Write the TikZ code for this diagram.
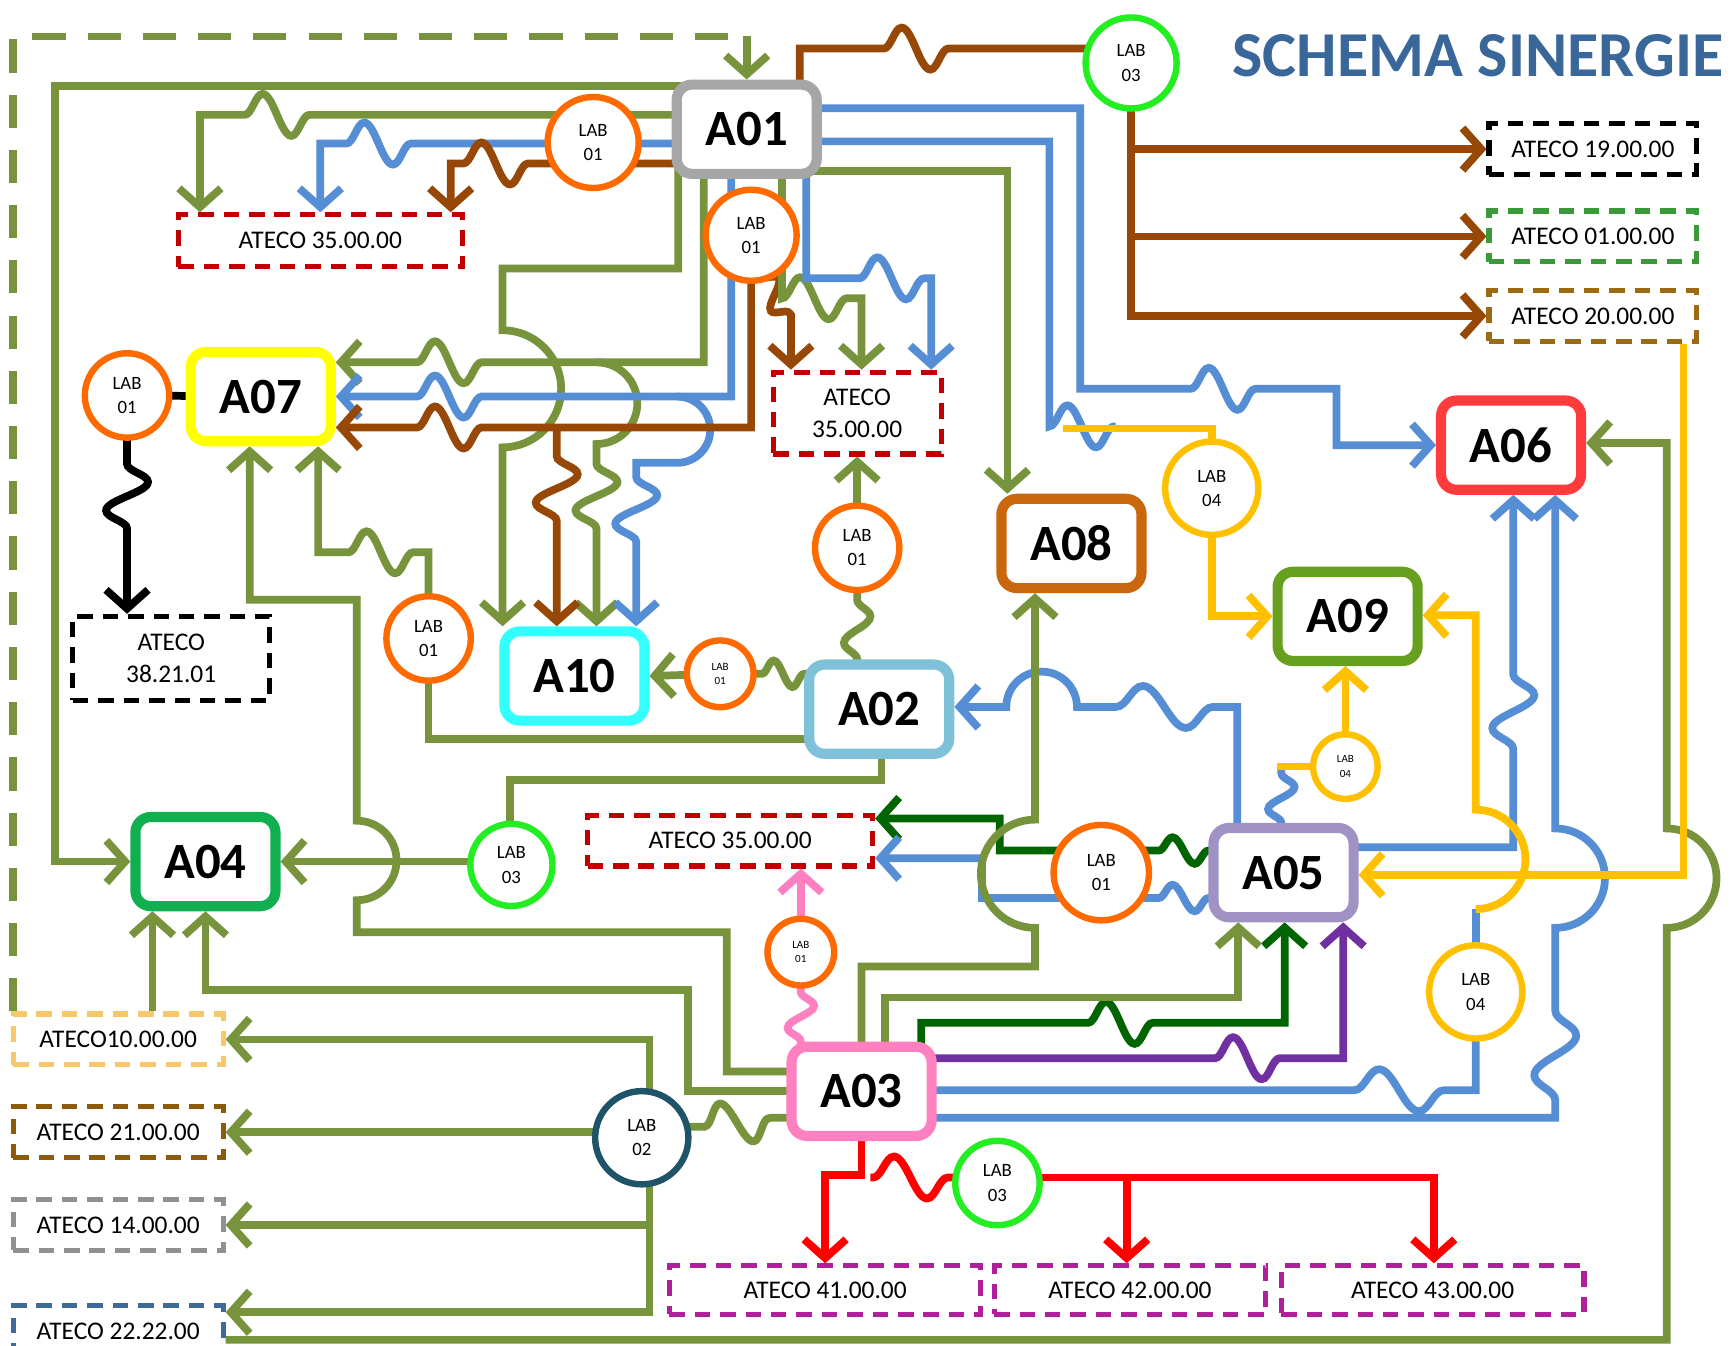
\documentclass[tikz,border=0pt]{standalone}
\usepackage{fontspec}
\setmainfont{Carlito}
\usetikzlibrary{arrows.meta,decorations.pathmorphing}
\pgfdeclarelayer{bg}
\pgfsetlayers{bg,main}
\definecolor{cG}{HTML}{77933C}
\definecolor{cB}{HTML}{558ED5}
\definecolor{cBr}{HTML}{974806}
\definecolor{cDG}{HTML}{006400}
\definecolor{cP}{HTML}{7030A0}
\definecolor{cY}{HTML}{FFC000}
\definecolor{cR}{HTML}{FF0000}
\definecolor{cPk}{HTML}{FF80C0}
\definecolor{cOr}{HTML}{FF6A00}
\definecolor{cLG}{HTML}{22EE22}
\definecolor{cTeal}{HTML}{1F5468}
\definecolor{cDR}{HTML}{C00000}
\definecolor{cTitle}{HTML}{3A679A}
\definecolor{cA01}{HTML}{A6A6A6}
\definecolor{cA07}{HTML}{FFFF00}
\definecolor{cA10}{HTML}{33FFFF}
\definecolor{cA02}{HTML}{7FC1D8}
\definecolor{cA08}{HTML}{C8670E}
\definecolor{cA06}{HTML}{FF3B3B}
\definecolor{cA09}{HTML}{66A01E}
\definecolor{cA05}{HTML}{A092C3}
\definecolor{cA04}{HTML}{10B050}
\definecolor{cA03}{HTML}{FF80C0}
\definecolor{cT6}{HTML}{3A9A3A}
\definecolor{cT7}{HTML}{9C6A10}
\definecolor{cT8}{HTML}{F5C86A}
\definecolor{cT9}{HTML}{8C5A08}
\definecolor{cT10}{HTML}{909090}
\definecolor{cT11}{HTML}{3E6A9A}
\definecolor{cMag}{HTML}{B0209C}
\begin{document}
\begin{tikzpicture}[x=0.5pt,y=-0.5pt,
  abox/.style={draw=#1,line width=4.6pt,rounded corners=7pt,fill=white,minimum width=63.4pt,minimum height=40.4pt,inner sep=0pt,font=\bfseries\fontsize{23}{26}\selectfont},
  labc/.style={circle,draw=#1,line width=2.9pt,fill=white,inner sep=0pt,align=center,font=\fontsize{8.5}{11}\selectfont},
  labs/.style={circle,draw=#1,line width=2.9pt,fill=white,inner sep=0pt,align=center,font=\fontsize{5}{6.5}\selectfont},
  atc/.style={draw=#1,line width=2.3pt,dash pattern=on 7pt off 4.5pt,fill=white,inner sep=0pt,align=center,font=\fontsize{11.5}{14.5}\selectfont},
  conn/.style={line width=3.5pt},
  arr/.style={-{Straight Barb[length=8.5pt,width=19pt]}},
  wv/.style={decoration={snake,amplitude=9.5pt,segment length=#1}}, wv/.default=26pt,
  wvs/.style={decoration={snake,amplitude=6pt,segment length=#1}}, wvs/.default=18pt]
\useasboundingbox (0,0) rectangle (1568,1218);

% ---------- boxes ----------
\node[abox=cA01] (A01) at (676,117) {A01};
\node[abox=cA07] (A07) at (236,359) {A07};
\node[abox=cA10] (A10) at (520,612) {A10};
\node[abox=cA02] (A02) at (796,642) {A02};
\node[abox=cA08] (A08) at (970,492) {A08};
\node[abox=cA06] (A06) at (1368,403) {A06};
\node[abox=cA09] (A09) at (1220,558) {A09};
\node[abox=cA05] (A05) at (1162,790) {A05};
\node[abox=cA04] (A04) at (186,780) {A04};
\node[abox=cA03] (A03) at (780,988) {A03};

% ---------- LAB circles ----------
\node[labc=cOr,minimum size=41.2pt] (L1) at (537,129) {LAB\\01};
\node[labc=cOr,minimum size=41.2pt] (L2) at (680,213) {LAB\\01};
\node[labc=cLG,minimum size=41.2pt] (L3) at (1024,57) {LAB\\03};
\node[labc=cOr,minimum size=38.2pt] (L4) at (115,358) {LAB\\01};
\node[labc=cOr,minimum size=38.2pt] (L5) at (388,578) {LAB\\01};
\node[labs=cOr,minimum size=30.2pt] (L6) at (652,610) {LAB\\01};
\node[labc=cOr,minimum size=38.2pt] (L7) at (776,496) {LAB\\01};
\node[labc=cY,minimum size=42.2pt] (L8) at (1097,442) {LAB\\04};
\node[labs=cY,minimum size=29.2pt] (L9) at (1218,694) {LAB\\04};
\node[labc=cOr,minimum size=43.2pt] (L10) at (997,790) {LAB\\01};
\node[labc=cLG,minimum size=37.2pt] (L11) at (463,783) {LAB\\03};
\node[labs=cOr,minimum size=30.2pt] (L12) at (725,862) {LAB\\01};
\node[labc=cY,minimum size=42.2pt] (L13) at (1336,898) {LAB\\04};
\node[labc=cTeal,minimum size=42.2pt] (L14) at (581,1030) {LAB\\02};
\node[labc=cLG,minimum size=38.2pt] (L15) at (903,1071) {LAB\\03};

% ---------- ATECO boxes ----------
\node[atc=cDR,minimum width=128.5pt,minimum height=23.5pt] (T1) at (290,218) {ATECO 35.00.00};
\node[atc=black,minimum width=89pt,minimum height=38pt] (T2) at (155,596) {ATECO\\38.21.01};
\node[atc=cDR,minimum width=76pt,minimum height=37pt] (T3) at (776,374) {ATECO\\35.00.00};
\node[atc=cDR,minimum width=129pt,minimum height=23pt] (T4) at (661,761) {ATECO 35.00.00};
\node[atc=black,minimum width=94pt,minimum height=23pt] (T5) at (1442,135) {ATECO 19.00.00};
\node[atc=cT6,minimum width=94pt,minimum height=23pt] (T6) at (1442,214) {ATECO 01.00.00};
\node[atc=cT7,minimum width=94pt,minimum height=23pt] (T7) at (1442,286) {ATECO 20.00.00};
\node[atc=cT8,minimum width=95pt,minimum height=23pt] (T8) at (107,941) {ATECO10.00.00};
\node[atc=cT9,minimum width=95pt,minimum height=23pt] (T9) at (107,1025) {ATECO 21.00.00};
\node[atc=cT10,minimum width=95pt,minimum height=23pt] (T10) at (107,1109) {ATECO 14.00.00};
\node[atc=cT11,minimum width=95pt,minimum height=23pt] (T11) at (107,1205) {ATECO 22.22.00};
\node[atc=cMag,minimum width=141pt,minimum height=22pt] (T12) at (747,1168) {ATECO 41.00.00};
\node[atc=cMag,minimum width=123pt,minimum height=22pt] (T13) at (1023,1168) {ATECO 42.00.00};
\node[atc=cMag,minimum width=137pt,minimum height=22pt] (T14) at (1297,1168) {ATECO 43.00.00};

\node[font=\bfseries\fontsize{29}{34}\selectfont,text=cTitle] (title) at (1338,50) {SCHEMA SINERGIE};

% ---------- connectors ----------
\begin{pgfonlayer}{bg}
\fill[white] (0,0) rectangle (1568,1218);
% dashed frame into A01
\draw[cG,conn,dash pattern=on 15pt off 10pt] (T8.north -| 12,0) -- (12,33) -- (676,33);
\draw[cG,conn,arr] (676,33) -- (A01.north);
% A01 -> A04
\draw[cG,conn,arr] (A01.center |- 0,78) -- (50,78) -- (50,780) -- (A04.west);
% A01 -> T1
\draw[cG,conn,arr] (A01.center |- 0,104) -- (280,104) decorate[wv]{-- (220,104)} -- (181,104) -- (T1.north -| 181,0);
\draw[cB,conn,arr] (A01.center |- 0,130) -- (372,130) decorate[wv]{-- (312,130)} -- (290,130) -- (T1.north -| 290,0);
\draw[cBr,conn,arr] (A01.center |- 0,148) -- (478,148) decorate[wv]{-- (418,148)} -- (408,148) -- (T1.north -| 408,0);
% A01 -> L3 -> T5..T7
\draw[cBr,conn] (A01.center -| 724,0) -- (724,44) -- (800,44) decorate[wv]{-- (860,44)} -- (L3.center |- 0,44);
\draw[cBr,conn,arr] (L3.center) -- (1024,286) -- (T7.west);
\draw[cBr,conn,arr] (1024,135) -- (T5.west);
\draw[cBr,conn,arr] (1024,214) -- (T6.west);
% A01 -> A06
\draw[cB,conn,arr] (A01.center |- 0,98) -- (978,98) -- (978,352) -- (1078,352) decorate[wv]{-- (1138,352)} -- (1210,352) -- (1210,403) -- (A06.west);
% A01 -> L8
\draw[cB,conn] (A01.center |- 0,128) -- (950,128) -- (950,386) decorate[wv]{-- (1010,386)};
\draw[cY,conn] (962,388) -- (1097,388) -- (L8.center);
% A01 -> A08
\draw[cG,conn,arr] (A01.center |- 0,155) -- (912,155) -- (A08.north -| 912,0);
% A01 bottom -> A10 / A07
\draw[cG,conn,arr] (A01.center -| 614,0) -- (614,243) -- (455,243) -- (455,299) arc[start angle=-90,end angle=90,radius=53] -- (A10.north -| 455,0);
\draw[cG,conn,arr] (A01.center -| 637,0) -- (637,328) -- (436,328) decorate[wv]{-- (376,328)} -- (A07.east |- 0,328);
\draw[cG,conn,arr] (540,328) arc[start angle=-90,end angle=90,radius=37] -- (540,420) decorate[wv]{-- (540,480)} -- (A10.north -| 540,0);
\draw[cB,conn,arr] (A01.center -| 662,0) -- (662,359) -- (436,359) decorate[wv]{-- (376,359)} -- (A07.east);
\draw[cB,conn,arr] (613,359) arc[start angle=-90,end angle=90,radius=30] -- (576,419) -- (576,432) decorate[wv]{-- (576,492)} -- (A10.north -| 576,0);
\draw[cBr,conn,arr] (L2.center) -- (680,387) -- (436,387) decorate[wv]{-- (376,387)} -- (A07.east |- 0,387);
\draw[cBr,conn,arr] (504,387) -- (504,413) decorate[wv]{-- (504,473)} -- (A10.north -| 504,0);
% A01/L2 -> T3
\draw[cBr,conn,arr] (L2.center -| 688,0) -- (688,250) decorate[wvs=19pt]{-- (716,285)} -- (T3.north -| 716,0);
\draw[cG,conn,arr] (A01.center -| 708,0) -- (708,270) decorate[wv]{-- (768,270)} -- (780,270) -- (T3.north -| 780,0);
\draw[cB,conn,arr] (A01.center -| 730,0) -- (730,252) -- (778,252) decorate[wv]{-- (838,252)} -- (843,252) -- (T3.north -| 843,0);
% into A07 bottom
\draw[cG,conn,arr] (L5.center) -- (388,500) -- (374,500) decorate[wv]{-- (314,500)} -- (288,500) -- (A07.south -| 288,0);
\draw[cG,conn,arr] (A03.center |- 0,970) -- (658,970) -- (658,844) -- (323,844) -- (323,815) arc[start angle=90,end angle=-90,radius=36] -- (323,543) -- (226,543) -- (A07.south -| 226,0);
% into A04
\draw[cG,conn,arr] (A03.center) -- (623,988) -- (623,896) -- (186,896) -- (A04.south);
\draw[cG,conn,arr] (T8.north -| 138,0) -- (A04.south -| 138,0);
\draw[cG,conn,arr] (L11.center |- 0,780) -- (A04.east);
\draw[cG,conn] (A02.center -| 798,0) -- (798,706) -- (462,706) -- (L11.center -| 462,0);
% A02 links
\draw[cG,conn] (A02.center |- 0,669) -- (388,669) -- (L5.center);
\draw[cG,conn] (A02.center |- 0,610) -- (A02.west |- 0,610) decorate[wvs=17pt]{-- (688,610)} -- (L6.center);
\draw[cG,conn,arr] (L6.center) -- (A10.east);
\draw[cG,conn] (A02.center -| 776,0) -- (A02.north -| 776,0) decorate[wvs=24pt]{-- (776,540)} -- (L7.center);
\draw[cG,conn,arr] (L7.center) -- (T3.south);
% A05 -> A02
\draw[cB,conn,arr] (A05.center -| 1120,0) -- (1120,640) -- (1098,640) decorate[wv=39pt]{-- (1008,640)} -- (975,640) arc[start angle=0,end angle=-180,radius=32] -- (A02.east |- 0,640);
% A05 -> T4 via L10
\draw[cDG,conn,arr] (A05.center |- 0,770) -- (A05.west |- 0,770) decorate[wvs=20pt]{-- (1046,770)} -- (905,770) -- (905,741) -- (T4.east |- 0,741);
\draw[cB,conn,arr] (A05.center |- 0,813) -- (A05.west |- 0,813) decorate[wvs=20pt]{-- (1046,813)} -- (889,813) -- (889,777) -- (T4.east |- 0,777);
% A05 -> L9 -> A09, L8 -> A09
\draw[cB,conn] (A05.center -| 1160,0) -- (A05.north -| 1160,0) decorate[wvs=20pt]{-- (1160,697)};
\draw[cY,conn] (1156,694) -- (L9.center);
\draw[cY,conn,arr] (L9.center) -- (A09.south -| 1218,0);
\draw[cY,conn,arr] (L8.center) -- (1097,558) -- (A09.west);
% A05 -> A06
\draw[cB,conn,arr] (A05.center |- 0,767) -- (1370,767) -- (1370,678) decorate[wv=30pt]{-- (1370,608)} -- (A06.south -| 1370,0);
% A03 -> A06
\draw[cB,conn,arr] (A03.center |- 0,1012) -- (1408,1012) -- (1408,996) decorate[wv=36pt]{-- (1408,914)} -- (1408,840) arc[start angle=90,end angle=-90,radius=45] -- (A06.south -| 1408,0);
% A03 -> L13 -> A09
\draw[cB,conn] (A03.center |- 0,987) -- (1226,987) decorate[wv=36pt]{-- (1308,987)} -- (1336,987) -- (L13.center);
\draw[cB,conn] (L13.center) -- (1336,823);
\draw[cY,conn,arr] (1336,823) arc[start angle=90,end angle=-90,radius=45] -- (1336,557) -- (A09.east |- 0,557);
% A03 -> A05
\draw[cP,conn,arr] (A03.center |- 0,958) -- (1100,958) decorate[wv]{-- (1160,958)} -- (1216,958) -- (A05.south -| 1216,0);
\draw[cDG,conn,arr] (A03.center -| 834,0) -- (834,926) -- (985,926) decorate[wv]{-- (1045,926)} -- (1163,926) -- (A05.south -| 1163,0);
\draw[cG,conn,arr] (A03.center -| 801,0) -- (801,903) -- (1121,903) -- (A05.south -| 1121,0);
% A03 -> A08
\draw[cG,conn,arr] (A03.center -| 780,0) -- (780,875) -- (937,875) -- (937,840) arc[start angle=90,end angle=270,radius=49] -- (A08.south -| 937,0);
% A03 -> L12 -> T4
\draw[cPk,conn] (A03.center -| 725,0) -- (A03.north -| 725,0) decorate[wvs=20pt]{-- (725,897)} -- (L12.center);
\draw[cPk,conn,arr] (L12.center) -- (T4.south -| 725,0);
% A03 -> T12..T14 (red)
\draw[cR,conn,arr] (A03.center -| 780,0) -- (780,1064) -- (747,1064) -- (T12.north -| 747,0);
\draw[cR,conn] (L15.center |- 0,1066) -- (858,1066) decorate[wv=30pt]{-- (788,1066)};
\draw[cR,conn,arr] (L15.center |- 0,1066) -- (1298,1066) -- (T14.north -| 1298,0);
\draw[cR,conn,arr] (1020,1066) -- (T13.north -| 1020,0);
% L14 -> T8..T11, A03 -> L14
\draw[cG,conn,arr] (L14.center -| 588,0) -- (588,941) -- (T8.east);
\draw[cG,conn,arr] (L14.center |- 0,1025) -- (T9.east);
\draw[cG,conn,arr] (L14.center -| 588,0) -- (588,1109) -- (T10.east);
\draw[cG,conn,arr] (588,1109) -- (588,1188) -- (T11.east |- 0,1188);
\draw[cG,conn] (L14.center |- 0,1020) -- (638,1020) decorate[wv]{-- (698,1012)} -- (A03.center |- 0,1012);
% bottom green -> A06
\draw[cG,conn,arr] (T11.east |- 0,1213) -- (1509,1213) -- (1509,840) arc[start angle=90,end angle=-90,radius=45] -- (1509,401) -- (A06.east |- 0,401);
% T7 -> A05 (yellow)
\draw[cY,conn,arr] (T7.south -| 1524,0) -- (1524,792) -- (A05.east |- 0,792);
% L4
\draw[black,conn] (L4.center) -- (A07.center);
\draw[black,conn,arr] (L4.center) -- (115,420) decorate[wv]{-- (115,480)} -- (T2.north -| 115,0);
\end{pgfonlayer}
\end{tikzpicture}
\end{document}
